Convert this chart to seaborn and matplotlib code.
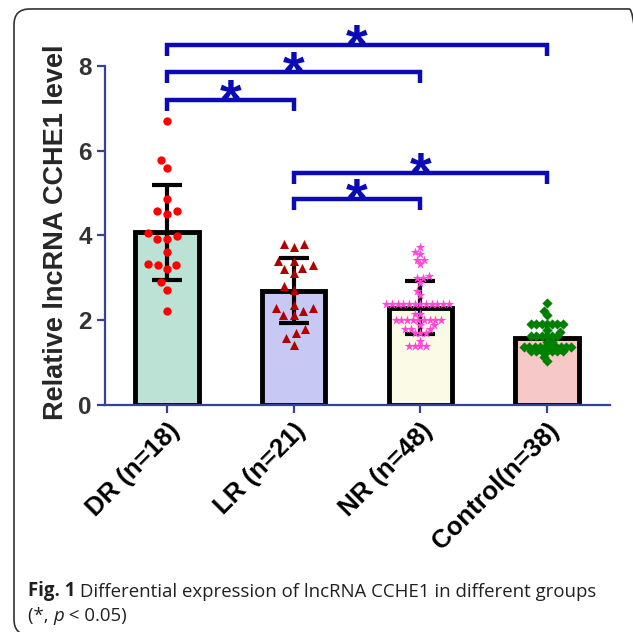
import numpy as np
import pandas as pd
import matplotlib
matplotlib.use("Agg")
import matplotlib.pyplot as plt
import seaborn as sns
from matplotlib.patches import FancyBboxPatch
from matplotlib.transforms import offset_copy

# Data
groups = ["DR (n=18)", "LR (n=21)", "NR (n=48)", "Control(n=38)"]
means = [4.08, 2.70, 2.30, 1.58]
sds = [1.12, 0.76, 0.62, 0.33]

dr_vals = [6.70, 5.79, 5.60, 4.87, 4.57, 4.51, 4.57, 3.99, 3.92, 3.92, 4.05,
           3.62, 3.31, 3.21, 3.31, 3.33, 2.91, 2.72, 2.23]
lr_vals = [3.80, 3.72, 3.80, 3.40, 3.40, 3.30, 3.24, 3.21, 3.11, 2.81, 2.71,
           2.30, 2.22, 2.30, 2.36, 2.12, 2.12, 1.79, 1.69, 1.59, 1.42]
nr_vals = [3.72, 3.62, 3.56, 3.42, 3.42, 3.32, 3.04, 3.00, 3.00, 2.89, 2.69,
           2.59, 2.38, 2.38, 2.38, 2.38, 2.38, 2.38, 2.38, 2.38, 2.38, 2.38,
           2.38, 2.38, 2.15, 2.15, 2.01, 2.01, 2.01, 2.01, 2.01, 2.01, 2.01,
           2.01, 2.01, 1.89, 1.89, 1.80, 1.80, 1.80, 1.70, 1.70, 1.70, 1.52,
           1.39, 1.39, 1.39, 1.39]
ctrl_vals = [2.41, 2.22, 2.13, 1.91, 1.91, 1.91, 1.91, 1.91, 1.91, 1.91, 1.78,
             1.73, 1.63, 1.63, 1.63, 1.63, 1.63, 1.63, 1.49, 1.49, 1.38, 1.38,
             1.38, 1.38, 1.38, 1.38, 1.38, 1.38, 1.38, 1.38, 1.27, 1.27, 1.27,
             1.27, 1.27, 1.27, 1.27, 1.14, 1.04]

bar_colors = ["#b5e8d6", "#c0c0fd", "#fefde2", "#ffc0c0"]
point_colors = ["#ff0000", "#b00000", "#ff48da", "#008000"]
point_markers = ["o", "^", "*", "D"]
swarm_sizes = [7, 7.2, 3.9, 3.6]   # sizes used to lay out the swarm
point_sizes = [6, 6.5, 7.2, 5.2]   # sizes the markers are drawn with

# significance brackets: (group a, group b, height)
sig_pairs = [(0, 3, 8.49), (0, 2, 7.85), (0, 1, 7.19), (1, 3, 5.47), (1, 2, 4.86)]

axis_color = "#34429a"
sig_color = "#0a0ab8"

sns.set_style("ticks")
plt.rcParams["font.family"] = ["Liberation Sans", "DejaVu Sans"]

fig = plt.figure(figsize=(6.33, 6.32), dpi=100)
ax = fig.add_axes([0.166, 0.359, 0.798, 0.604])

# bars
df_bar = pd.DataFrame({"group": groups, "mean": means})
sns.barplot(data=df_bar, x="group", y="mean", hue="group", order=groups,
            palette=bar_colors, legend=False, width=0.5, edgecolor="black",
            linewidth=3.5, ax=ax, zorder=2)

# SD error bars
ax.errorbar(np.arange(len(groups)), means, yerr=sds, fmt="none", ecolor="black",
            elinewidth=3, capsize=11, capthick=3, zorder=3)

# scatter of individual values (GraphPad style: tight rows, overlapping markers)
all_vals = [dr_vals, lr_vals, nr_vals, ctrl_vals]
swarms = []
for g, vals, col, mk, sw, ps in zip(groups, all_vals, point_colors, point_markers,
                                    swarm_sizes, point_sizes):
    before = list(ax.collections)
    df_pts = pd.DataFrame({"group": [g] * len(vals), "value": vals})
    sns.swarmplot(data=df_pts, x="group", y="value", order=groups, color=col,
                  marker=mk, size=sw, linewidth=0, ax=ax, zorder=4)
    for c in ax.collections:
        if c not in before:
            swarms.append((c, ps))

# significance brackets
star_tr = offset_copy(ax.transData, fig=fig, y=-12.5, units="points")
for a, b, h in sig_pairs:
    ax.plot([a, a, b, b], [h - 0.26, h, h, h - 0.26], color=sig_color, lw=3.2,
            solid_joinstyle="miter", solid_capstyle="butt", clip_on=False, zorder=5)
    ax.text((a + b) / 2, h, "*", transform=star_tr, ha="center", va="baseline",
            fontsize=40, fontweight="bold", color=sig_color, zorder=5)

# axes styling
ax.set_xlim(-0.49, 3.5)
ax.set_ylim(0, 9)
ax.set_yticks([0, 2, 4, 6, 8])
ax.spines["top"].set_visible(False)
ax.spines["right"].set_visible(False)
ax.spines["left"].set_bounds(0, 8)
for sp in ["left", "bottom"]:
    ax.spines[sp].set_color(axis_color)
    ax.spines[sp].set_linewidth(1.6)
ax.tick_params(axis="both", direction="out", length=6, width=1.6, color=axis_color,
               labelcolor="#333333")
ax.tick_params(axis="y", labelsize=17.5)
ax.set_yticklabels(["0", "2", "4", "6", "8"], fontweight="bold")
ax.set_xticks(range(len(groups)))
ax.set_xticklabels(groups, rotation=45, ha="right", rotation_mode="anchor",
                   fontsize=18.5, fontweight="bold", color="black")
ax.set_xlabel("")
ax.set_ylabel("Relative lncRNA CCHE1 level", fontsize=19.5, fontweight="bold")
ax.yaxis.set_label_coords(-0.072, 0.453)

# lay out the swarms once, then draw the markers a bit larger so they overlap
fig.canvas.draw()
for coll, ps in swarms:
    if "draw" in coll.__dict__:
        del coll.draw
    coll.set_sizes([ps ** 2])

# caption
cap_font = ["Open Sans", "DejaVu Sans"]
cap_size = 13.4
t1 = fig.text(0.044, 0.057, "Fig. 1", fontsize=cap_size, fontweight="bold",
              family=cap_font, color="#231f20", va="baseline")
ax.annotate(" Differential expression of lncRNA CCHE1 in different groups",
            xy=(1, 0), xycoords=t1, va="bottom", ha="left", fontsize=cap_size,
            family=cap_font, color="#231f20", annotation_clip=False)
t2 = fig.text(0.044, 0.0174, "(*, ", fontsize=cap_size, family=cap_font,
              color="#231f20", va="baseline")
t3 = ax.annotate("p", xy=(1, 0), xycoords=t2, va="bottom", ha="left",
                 fontsize=cap_size, family=cap_font, style="italic", color="#231f20",
                 annotation_clip=False)
ax.annotate(" < 0.05)", xy=(1, 0), xycoords=t3, va="bottom", ha="left",
            fontsize=cap_size, family=cap_font, color="#231f20", annotation_clip=False)

# rounded frame around the figure (right/bottom edges fall off the image)
frame = FancyBboxPatch((0.0221, -0.005), 0.997, 0.9908,
                       boxstyle="round,pad=0,rounding_size=0.025",
                       transform=fig.transFigure, fill=False,
                       edgecolor="#333333", linewidth=1.2)
fig.patches.append(frame)

fig.savefig("out.png", dpi=100)
